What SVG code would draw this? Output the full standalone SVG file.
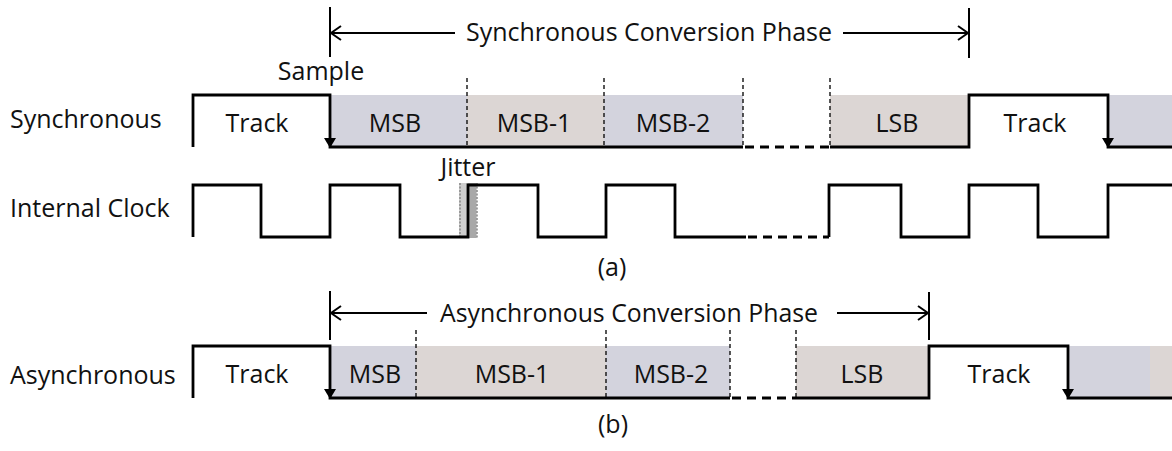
<svg xmlns="http://www.w3.org/2000/svg" width="1172" height="451" viewBox="0 0 1172 451">
<defs>
<style>
text{font-family:"Open Sans","Liberation Sans",sans-serif;font-size:25px;fill:#111}
.c{text-anchor:middle}
.w{fill:none;stroke:#000;stroke-width:2.8;stroke-linejoin:miter}
.d{fill:none;stroke:#000;stroke-width:2.8;stroke-dasharray:9 6}
.sep{stroke:#111;stroke-width:1.4;stroke-dasharray:4 3}
.ar{fill:none;stroke:#000;stroke-width:2}
.b{fill:#d3d3dd}
.g{fill:#dcd6d4}
</style>
<marker id="ch" viewBox="0 0 12 16" refX="11" refY="8" markerWidth="12" markerHeight="16" markerUnits="userSpaceOnUse" orient="auto">
<path d="M1,1 L11,8 L1,15" fill="none" stroke="#000" stroke-width="2"/>
</marker>
</defs>
<rect width="1172" height="451" fill="#fff"/>

<g id="labels">
<text x="10" y="128">Synchronous</text>
<text x="10" y="217">Internal Clock</text>
<text x="10" y="384">Asynchronous</text>
<text class="c" x="321" y="80">Sample</text>
<text class="c" x="468" y="176">Jitter</text>
<text class="c" x="612" y="276">(a)</text>
<text class="c" x="613" y="433">(b)</text>
</g>

<g id="sync-phase">
<line x1="330" y1="7" x2="330" y2="57" class="ar"/>
<line x1="969" y1="8" x2="969" y2="58" class="ar"/>
<line x1="455" y1="33" x2="331" y2="33" class="ar" marker-end="url(#ch)"/>
<line x1="843" y1="33" x2="968" y2="33" class="ar" marker-end="url(#ch)"/>
<text x="466" y="41" textLength="366" lengthAdjust="spacingAndGlyphs">Synchronous Conversion Phase</text>
</g>

<g id="sync-row">
<rect class="b" x="330" y="95" width="137" height="52"/>
<rect class="g" x="467" y="95" width="137" height="52"/>
<rect class="b" x="604" y="95" width="139" height="52"/>
<rect class="g" x="830" y="95" width="139" height="52"/>
<rect class="b" x="1108" y="95" width="64" height="52"/>
<line class="sep" x1="467" y1="78" x2="467" y2="147"/>
<line class="sep" x1="604" y1="78" x2="604" y2="147"/>
<line class="sep" x1="743" y1="78" x2="743" y2="147"/>
<line class="sep" x1="830" y1="78" x2="830" y2="147"/>
<path class="w" d="M193,147 V95 H330 V147 H743"/>
<path class="d" d="M745,147 H830"/>
<path class="w" d="M830,147 H969 V95 H1108 V147 H1172"/>
<path d="M324,138 L336,138 L330,148 z" fill="#000"/>
<path d="M1102,138 L1114,138 L1108,148 z" fill="#000"/>
<text class="c" x="257" y="132">Track</text>
<text class="c" x="395" y="132">MSB</text>
<text class="c" x="534" y="132">MSB-1</text>
<text class="c" x="673" y="132">MSB-2</text>
<text class="c" x="897" y="132">LSB</text>
<text class="c" x="1035" y="132">Track</text>
</g>

<g id="clock">
<rect x="459" y="183" width="18" height="55" fill="#cfcfcf"/>
<rect x="468" y="183" width="8" height="55" fill="#a8a8a8"/>
<line x1="460" y1="183" x2="460" y2="238" stroke="#888" stroke-width="1.5" stroke-dasharray="2 1.5"/>
<line x1="477" y1="183" x2="477" y2="238" stroke="#888" stroke-width="1.5" stroke-dasharray="2 1.5"/>
<path class="w" d="M193,237 V185 H261 V237 H330 V185 H400 V237 H468 V185 H538 V237 H606 V185 H675 V237 H746"/>
<path class="d" d="M748,237 H829"/>
<path class="w" d="M829,237 V185 H901 V237 H969 V185 H1038 V237 H1108 V185 H1172"/>
</g>

<g id="async-phase">
<line x1="330" y1="291" x2="330" y2="340" class="ar"/>
<line x1="929" y1="292" x2="929" y2="340" class="ar"/>
<line x1="427" y1="313" x2="331" y2="313" class="ar" marker-end="url(#ch)"/>
<line x1="837" y1="313" x2="928" y2="313" class="ar" marker-end="url(#ch)"/>
<text x="440" y="322" textLength="378" lengthAdjust="spacingAndGlyphs">Asynchronous Conversion Phase</text>
</g>

<g id="async-row">
<rect class="b" x="330" y="346" width="86" height="52"/>
<rect class="g" x="416" y="346" width="190" height="52"/>
<rect class="b" x="606" y="346" width="124" height="52"/>
<rect class="g" x="796" y="346" width="133" height="52"/>
<rect class="b" x="1068" y="346" width="82" height="52"/>
<rect class="g" x="1150" y="346" width="22" height="52"/>
<line class="sep" x1="416" y1="330" x2="416" y2="398"/>
<line class="sep" x1="606" y1="330" x2="606" y2="398"/>
<line class="sep" x1="730" y1="330" x2="730" y2="398"/>
<line class="sep" x1="796" y1="330" x2="796" y2="398"/>
<path class="w" d="M193,398 V346 H330 V398 H730"/>
<path class="d" d="M732,398 H796"/>
<path class="w" d="M796,398 H929 V346 H1068 V398 H1172"/>
<path d="M324,389 L336,389 L330,399 z" fill="#000"/>
<path d="M1062,389 L1074,389 L1068,399 z" fill="#000"/>
<text class="c" x="257" y="383">Track</text>
<text class="c" x="375" y="383">MSB</text>
<text class="c" x="512" y="383">MSB-1</text>
<text class="c" x="671" y="383">MSB-2</text>
<text class="c" x="862" y="383">LSB</text>
<text class="c" x="999" y="383">Track</text>
</g>
</svg>
